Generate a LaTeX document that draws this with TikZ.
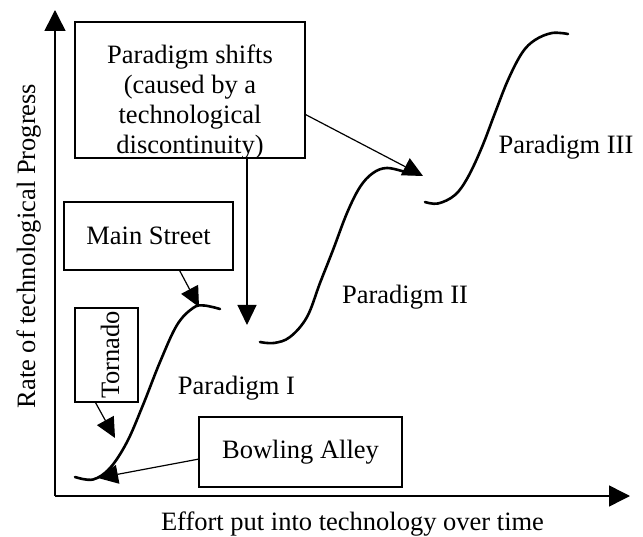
\documentclass[tikz,border=0pt]{standalone}
\usepackage{fontspec}
\setmainfont{Liberation Serif}
\usetikzlibrary{arrows.meta,calc}
\begin{document}
\begin{tikzpicture}[x=1pt,y=-1pt,
  every node/.style={font=\fontsize{26.5}{30}\selectfont, inner sep=0pt},
  box/.style={draw, line width=1.2pt},
  axis/.style={line width=1.5pt, -{Triangle[length=21pt,width=21pt]}},
  conn/.style={line width=1.2pt, -{Triangle[length=20pt,width=19pt]}},
  scurve/.style={line width=2.6pt, line cap=round}
]
\useasboundingbox (0,0) rectangle (643,537);
% axes
\coordinate (origin) at (55,496);
\coordinate (ytop) at (55,10);
\coordinate (xend) at (630,496);
\draw[axis] (origin) -- (ytop);
\draw[axis] (origin) -- (xend);
\node[anchor=base, rotate=90] (ylab) at (35,246) {Rate of technological Progress};
\node[anchor=base] (xlab) at (352.5,530) {Effort put into technology over time};
% S-curves
\draw[scurve] plot[smooth, tension=0.6] coordinates {(75,477) (93,479.5) (110,468) (127,442) (143,405) (160,362) (177,325) (193,308) (204,305.5) (220,309)};
\draw[scurve] plot[smooth, tension=0.6] coordinates {(260,342) (274,343) (290,337) (307,317) (320,283) (333,250) (347,213) (360,187) (373,173) (387,168) (405,172)};
\draw[scurve] plot[smooth, tension=0.6] coordinates {(425,202) (438,203.5) (455,195) (468,177) (482,147) (495,113) (508,80) (522,53) (535,40) (552,33) (568,34)};
% labels
\node[anchor=base] (p1) at (236.5,395) {Paradigm I};
\node[anchor=base] (p2) at (405,304) {Paradigm II};
\node[anchor=base] (p3) at (566,154) {Paradigm III};
% boxes
\node[box, minimum width=230pt, minimum height=136pt] (shift) at (190,90) {};
\node[anchor=north, align=center] (shifttxt) at (190,45) {Paradigm shifts\\(caused by a\\technological\\discontinuity)};
\node[box, minimum width=169pt, minimum height=68pt] (ms) at (148.5,236) {Main Street};
\node[box, minimum width=63pt, minimum height=94pt] (tor) at (106.5,355) {};
\node[rotate=90] (tortxt) at (110,355) {Tornado};
\node[box, minimum width=203pt, minimum height=70pt] (bowl) at (300.5,452) {Bowling Alley};
% connectors
\coordinate (mstip) at (199,307);
\coordinate (vtip) at (247,325);
\coordinate (dtip) at (423,176);
\coordinate (ttip) at (115,438);
\coordinate (btip) at (98,478);
\draw[conn] (ms.-48) -- (mstip);
\draw[conn] (shift.south -| vtip) -- (vtip);
\draw[conn] (shift.-12.3) -- (dtip);
\draw[conn] (tor.-103.7) -- (ttip);
\draw[conn] (bowl.-176.6) -- (btip);
\end{tikzpicture}
\end{document}
